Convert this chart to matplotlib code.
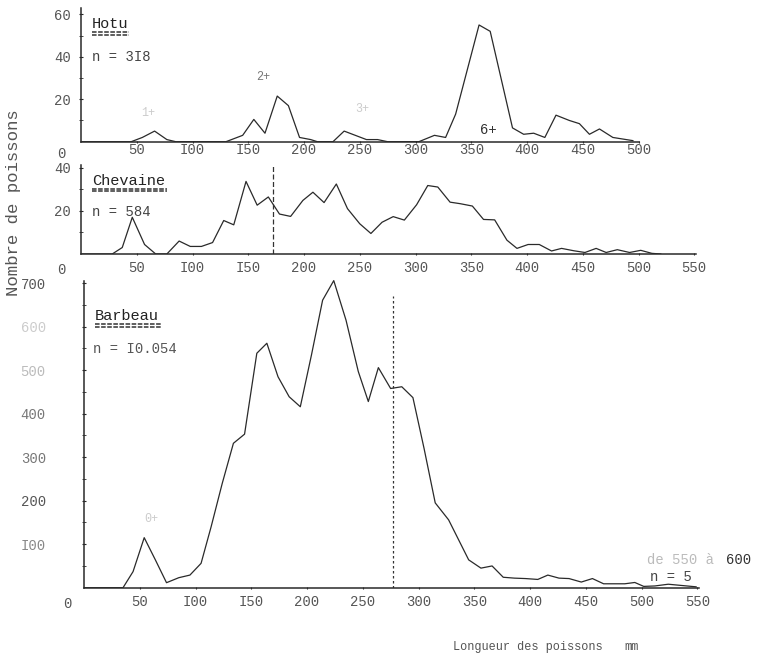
import matplotlib.pyplot as plt
from matplotlib.lines import Line2D

W, H = 762, 657
plt.rcParams['font.family'] = ['Liberation Mono', 'DejaVu Sans Mono']

# Hotu  (n = 318)
hotu_mm = [0, 45, 55, 66, 77, 85, 130, 145, 155, 165, 176, 186, 196, 206, 212,
           226, 236, 246, 256, 266, 275, 303, 317, 327, 336, 357, 367, 387, 397,
           406, 416, 426, 438, 447, 456, 465, 477, 495]
hotu_n = [0, 0, 2, 5, 1, 0, 0, 3, 10.5, 4, 21.5, 17, 2, 1, 0,
          0, 5, 3, 1, 1, 0, 0, 3, 2, 13, 55, 52, 6.5, 3.5,
          4, 2, 12.5, 10, 8.5, 3.5, 6, 2, 0.5]

# Chevaine  (n = 584)
chev_mm = [0, 28, 37, 46, 57, 67, 77, 88, 98, 108, 118, 128, 137, 148, 158, 168,
           178, 188, 199, 208, 218, 229, 239, 250, 260, 270, 280, 290, 301, 311,
           320, 331, 340, 351, 361, 371, 382, 391, 401, 411, 422, 431, 442, 452,
           462, 471, 481, 492, 502, 512, 520]
chev_n = [0, 0, 3, 17, 4.4, 0, 0, 6, 3.5, 3.5, 5.3, 15.5, 13.5, 33.6, 22.6, 26.4,
          18.5, 17.4, 24.8, 28.6, 23.8, 32.4, 21, 14, 9.5, 14.7, 17.3, 15.7, 22.8, 31.7,
          31, 24, 23.3, 22.2, 16, 15.8, 6.4, 2.6, 4.4, 4.4, 1.4, 2.6, 1.5, 0.7,
          2.6, 0.7, 2, 0.7, 1.7, 0.3, 0]

# Barbeau  (n = 10.054)
barb_mm = [0, 35, 44, 54, 64, 74, 85, 95, 105, 114, 124, 134, 144, 155, 164, 174,
           184, 194, 204, 214, 224, 235, 246, 255, 264, 275, 285, 295, 305, 315,
           327, 345, 356, 366, 376, 386, 396, 407, 416, 426, 435, 446, 456, 466,
           485, 494, 502, 512, 524, 549]
barb_n = [0, 0, 37, 115, 64, 11.5, 23, 29, 56, 140, 240, 332, 353, 539, 562, 485,
          439, 416, 535, 661, 706, 615, 497, 428, 506, 458, 462, 437, 320, 195,
          156, 64, 45, 50, 24, 22, 21, 19, 29, 22, 21, 13, 21, 9,
          9, 12, 3, 4, 8, 2]

x_ticks = [50, 100, 150, 200, 250, 300, 350, 400, 450, 500, 550]
x_labels = ['50', 'I00', 'I50', '200', '250', '300', '350', '400', '450', '500', '550']

ink = '#2a2a2a'
fig = plt.figure(figsize=(W / 100, H / 100), dpi=100)


def fx(x):
    return x / W


def fy(y):
    return 1 - y / H


def make_axes(left, base, top, ymax, xend, pad):
    ax = fig.add_axes([fx(left), fy(base), 560 * 1.115 / W, (base - top) / H])
    ax.set_xlim(0, 560)
    ax.set_ylim(0, ymax)
    for s in ['top', 'right']:
        ax.spines[s].set_visible(False)
    for s in ['left', 'bottom']:
        ax.spines[s].set_color(ink)
        ax.spines[s].set_linewidth(1.1)
    ax.spines['bottom'].set_bounds(0, xend)
    ax.set_xticks(x_ticks[:len([t for t in x_ticks if t <= xend + 1])])
    ax.set_xticklabels(x_labels[:len(ax.get_xticks())])
    ax.tick_params(axis='x', length=2, direction='inout', pad=pad,
                   labelsize=10, labelcolor='#555555', color=ink)
    ax.tick_params(axis='y', which='both', length=3, direction='inout',
                   labelsize=10, labelcolor='#555555', color=ink)
    ax.patch.set_alpha(0)
    return ax


def title(x, y, name, w):
    fig.text(fx(x), fy(y), name, fontsize=11, color='#222222', va='center')
    for dy in (8, 10.5):
        fig.add_artist(Line2D([fx(x), fx(x + w)], [fy(y + dy), fy(y + dy)],
                              color='#333333', lw=1.1, linestyle=(0, (3, 1))))


# --- Hotu ---
ax1 = make_axes(81, 141.7, 8, 63, 500, 0)
ax1.plot(hotu_mm, hotu_n, color=ink, lw=0.9)
ax1.set_yticks([20, 40, 60])
ax1.set_yticks([10, 30, 50], minor=True)
ax1.tick_params(axis='y', pad=6)
ax1.text(-0.025, -0.04, '0', transform=ax1.transAxes, ha='right', va='top',
         fontsize=10, color='#555555')
ax1.text(163, 29, '2+', fontsize=8.5, color='#777777', ha='center')
ax1.text(60, 12, '1+', fontsize=8.5, color='#cccccc', ha='center')
ax1.text(252, 14, '3+', fontsize=8.5, color='#cccccc', ha='center')
ax1.text(365, 3.5, '6+', fontsize=10, color='#333333', ha='center')
title(92, 24, 'Hotu', 37)
fig.text(fx(92), fy(57), 'n = 3I8', fontsize=10, color='#444444', va='center')

# --- Chevaine ---
ax2 = make_axes(81, 254, 165, 41.2, 552, 4)
ax2.plot(chev_mm, chev_n, color=ink, lw=0.9)
ax2.set_yticks([20, 40])
ax2.set_yticks([10, 30], minor=True)
ax2.tick_params(axis='y', pad=6)
ax2.axvline(172, 0, 1, color='#333333', lw=0.9, linestyle=(0, (4, 2)))
ax2.text(-0.025, -0.1, '0', transform=ax2.transAxes, ha='right', va='top',
         fontsize=10, color='#555555')
title(92, 181, 'Chevaine', 75)
fig.text(fx(92), fy(212), 'n = 584', fontsize=10, color='#444444', va='center')

# --- Barbeau ---
ax3 = make_axes(84, 587.7, 276.7, 715, 552, 4)
ax3.spines['left'].set_bounds(0, 704)
ax3.plot(barb_mm, barb_n, color=ink, lw=0.9)
ax3.set_yticks([100, 200, 300, 400, 500, 600, 700])
ax3.set_yticklabels(['I00', '200', '300', '400', '500', '600', '700'])
ax3.set_yticks([50, 150, 250, 350, 450, 550, 650], minor=True)
ax3.tick_params(axis='y', pad=26)
for lab, c in zip(ax3.get_yticklabels(),
                  ['#888888', '#555555', '#777777', '#777777', '#bbbbbb', '#cccccc', '#555555']):
    lab.set_color(c)
ax3.axvline(277, 0, 670 / 715, color='#333333', lw=0.9, linestyle=(0, (2, 2)))
ax3.text(-0.02, -0.03, '0', transform=ax3.transAxes, ha='right', va='top',
         fontsize=10, color='#555555')
ax3.text(60, 150, '0+', fontsize=8.5, color='#cccccc', ha='center')
title(95, 316, 'Barbeau', 67)
fig.text(fx(93), fy(349), 'n = I0.054', fontsize=10, color='#555555', va='center')
fig.text(fx(647), fy(560), 'de 550 à', fontsize=10, color='#bbbbbb', va='center')
fig.text(fx(726), fy(560), '600', fontsize=10, color='#333333', va='center')
fig.text(fx(650), fy(577), 'n = 5', fontsize=10, color='#444444', va='center')

fig.text(fx(14), fy(203), 'Nombre de poissons', fontsize=12.5, rotation=90,
         ha='center', va='center', color='#555555')
fig.text(fx(453), fy(647), 'Longueur des poissons', fontsize=8.6,
         va='center', color='#555555')
fig.text(fx(624), fy(647), 'mm', fontsize=8.6, va='center', color='#555555')

fig.savefig('out.png', dpi=100)
